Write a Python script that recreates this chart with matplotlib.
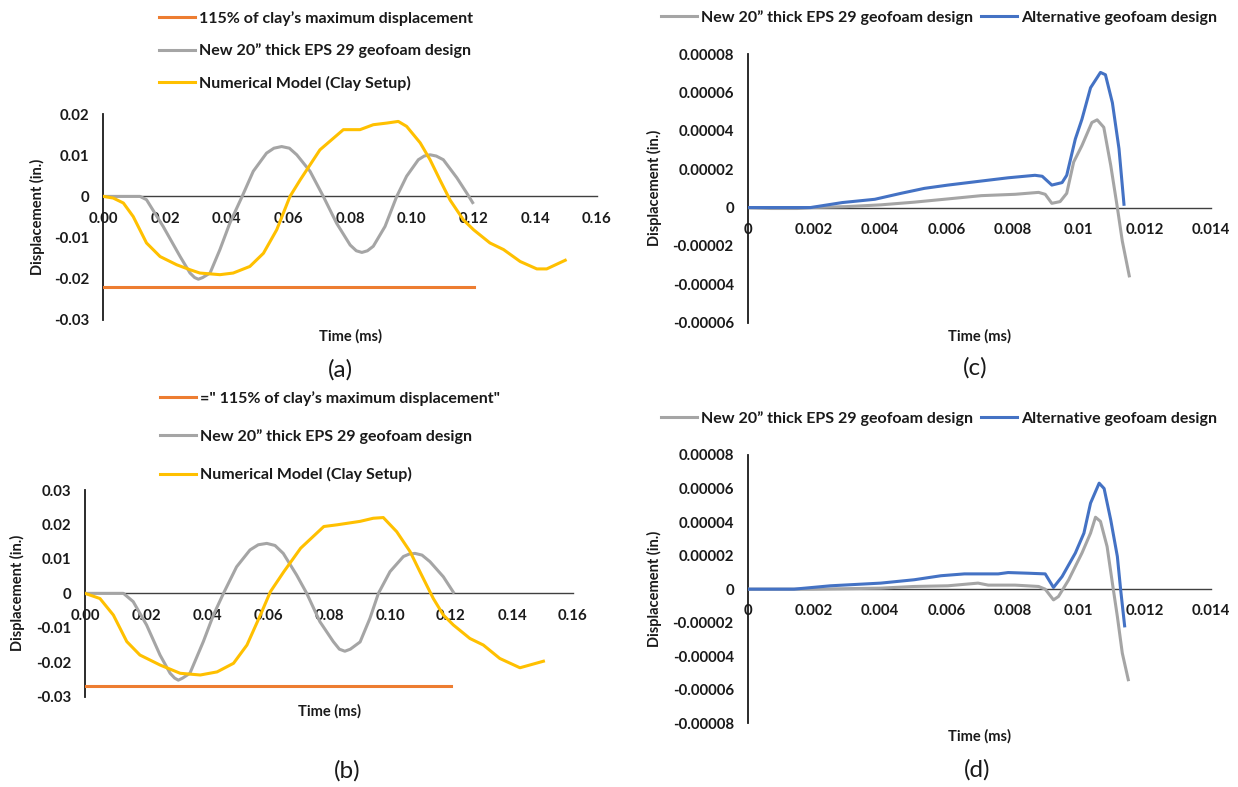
import matplotlib
matplotlib.use("Agg")
import matplotlib.pyplot as plt

plt.rcParams['font.family'] = ['Lato', 'DejaVu Sans']

# ---- (a) ----
a_gray_t = [0, 0.006, 0.0119, 0.014, 0.0194, 0.0249, 0.0281, 0.0296, 0.0308, 0.0322, 0.0346,
            0.0378, 0.041, 0.045, 0.0486, 0.0529, 0.0553, 0.0578, 0.0603, 0.0627, 0.067, 0.0713,
            0.0756, 0.08, 0.082, 0.0838, 0.0856, 0.0875, 0.0913, 0.0951, 0.0983, 0.1021, 0.104,
            0.1059, 0.1079, 0.1102, 0.1146, 0.1178, 0.1197]
a_gray_v = [0, 0, 0, -0.0008, -0.0073, -0.0146, -0.0186, -0.0197, -0.0201, -0.0197, -0.0186,
            -0.0129, -0.0065, 0, 0.0061, 0.0105, 0.0117, 0.0121, 0.0117, 0.0101, 0.0061, 0,
            -0.0065, -0.0118, -0.0132, -0.0136, -0.0132, -0.0121, -0.0073, 0, 0.0049, 0.0089,
            0.0098, 0.0101, 0.0098, 0.0089, 0.0045, 0.0008, -0.0015]
a_yellow_t = [0, 0.0032, 0.0065, 0.0097, 0.014, 0.0184, 0.0238, 0.0281, 0.0313, 0.0378, 0.0421,
              0.0475, 0.0519, 0.0562, 0.0605, 0.0638, 0.0702, 0.0778, 0.0832, 0.0875, 0.0919,
              0.0956, 0.0983, 0.1027, 0.1059, 0.1091, 0.1124, 0.1167, 0.12, 0.1253, 0.1297,
              0.1351, 0.1405, 0.1437, 0.1497]
a_yellow_v = [0, -0.0004, -0.0016, -0.0049, -0.0113, -0.0146, -0.0166, -0.0178, -0.0186, -0.019,
              -0.0186, -0.017, -0.0138, -0.0081, 0, 0.004, 0.0113, 0.0162, 0.0162, 0.0174, 0.0178,
              0.0182, 0.017, 0.013, 0.0089, 0.004, -0.0009, -0.0057, -0.0081, -0.0113, -0.0129,
              -0.0158, -0.0176, -0.0176, -0.0155]
a_limit_t = [0, 0.12]
a_limit_v = [-0.0221, -0.0221]

# ---- (b) ----
b_gray_t = [0, 0.0126, 0.0158, 0.0202, 0.0246, 0.0279, 0.0294, 0.0306, 0.032, 0.0344, 0.0388,
            0.0421, 0.0454, 0.0497, 0.0541, 0.0568, 0.0596, 0.0623, 0.065, 0.0694, 0.0727, 0.077,
            0.0814, 0.0834, 0.0852, 0.087, 0.0902, 0.0934, 0.0962, 0.1, 0.1044, 0.1063, 0.1082,
            0.1105, 0.1131, 0.1175, 0.1208]
b_gray_v = [0, 0, -0.0024, -0.0092, -0.0179, -0.0232, -0.0246, -0.0252, -0.0246, -0.0232,
            -0.014, -0.0063, 0, 0.0077, 0.0126, 0.0141, 0.0145, 0.0139, 0.0116, 0.0053, 0,
            -0.0082, -0.014, -0.0162, -0.0168, -0.0162, -0.0141, -0.0073, 0, 0.0063, 0.0107,
            0.0114, 0.0116, 0.0111, 0.0092, 0.0048, 0.0003]
b_yellow_t = [0, 0.0049, 0.0093, 0.0137, 0.018, 0.0246, 0.0312, 0.0378, 0.0433, 0.0487, 0.0531,
              0.0575, 0.0608, 0.0652, 0.0707, 0.0783, 0.0827, 0.0902, 0.0945, 0.0978, 0.1022,
              0.1066, 0.1098, 0.1142, 0.1175, 0.1208, 0.1262, 0.1306, 0.136, 0.1426, 0.1503]
b_yellow_v = [0, -0.0015, -0.0063, -0.014, -0.0179, -0.0208, -0.0232, -0.0237, -0.0228, -0.0203,
              -0.015, -0.0063, 0.0005, 0.0063, 0.0131, 0.0194, 0.0199, 0.0209, 0.0218, 0.022,
              0.0179, 0.0121, 0.0063, -0.0015, -0.0063, -0.0092, -0.0131, -0.015, -0.0189,
              -0.0216, -0.0197]
b_limit_t = [0, 0.12]
b_limit_v = [-0.0269, -0.0269]

# ---- (c) ----  values in 1e-5 in.
c_gray_t = [0, 0.0007, 0.0015, 0.0019, 0.003, 0.00402, 0.00503, 0.00605, 0.00706, 0.00808,
            0.00879, 0.00899, 0.00919, 0.00944, 0.00964, 0.00985, 0.0101, 0.0104, 0.01056,
            0.01076, 0.01097, 0.01117, 0.01132, 0.01153]
c_gray_v = [0, -0.05, -0.05, 0, 0.05, 0.14, 0.28, 0.45, 0.62, 0.69, 0.79, 0.69, 0.22, 0.31, 0.74,
            2.37, 3.23, 4.43, 4.57, 4.18, 2.2, 0, -1.75, -3.56]
c_blue_t = [0, 0.0019, 0.00286, 0.00384, 0.00463, 0.00534, 0.00605, 0.00686, 0.00787, 0.00868,
            0.0089, 0.00919, 0.0095, 0.00964, 0.0099, 0.0101, 0.01036, 0.01066, 0.01081, 0.01102,
            0.01122, 0.01137]
c_blue_v = [0, 0, 0.26, 0.43, 0.74, 1.0, 1.17, 1.34, 1.55, 1.68, 1.63, 1.17, 1.3, 1.68, 3.57, 4.6,
            6.24, 7.04, 6.92, 5.46, 3.06, 0.17]

# ---- (d) ----
d_gray_t = [0, 0.002, 0.00402, 0.00503, 0.00605, 0.00696, 0.00727, 0.00808, 0.00879, 0.00899,
            0.00924, 0.00939, 0.0097, 0.0101, 0.01036, 0.01051, 0.01066, 0.01086, 0.01102,
            0.01117, 0.01132, 0.0115]
d_gray_v = [0, 0, 0.06, 0.16, 0.2, 0.36, 0.24, 0.24, 0.16, 0, -0.64, -0.44, 0.56, 2.15, 3.34,
            4.29, 4.04, 2.54, 0.36, -1.63, -3.82, -5.4]
d_blue_t = [0, 0.0014, 0.0025, 0.00402, 0.00503, 0.00584, 0.00655, 0.00757, 0.00787, 0.00848,
            0.00899, 0.00924, 0.0095, 0.0099, 0.01016, 0.01036, 0.01062, 0.01077, 0.01097,
            0.01117, 0.01127, 0.01139]
d_blue_v = [0, 0, 0.2, 0.36, 0.56, 0.8, 0.91, 0.91, 0.99, 0.95, 0.91, 0.1, 0.75, 2.15, 3.34, 5.13,
            6.32, 6.0, 4.13, 1.95, -0.04, -2.19]

ab_xticks = [0, 0.02, 0.04, 0.06, 0.08, 0.10, 0.12, 0.14, 0.16]
ab_xlabels = ["0.00", "0.02", "0.04", "0.06", "0.08", "0.10", "0.12", "0.14", "0.16"]
a_yticks = [-0.03, -0.02, -0.01, 0, 0.01, 0.02]
a_ylabels = ["-0.03", "-0.02", "-0.01", "0", "0.01", "0.02"]
b_yticks = [-0.03, -0.02, -0.01, 0, 0.01, 0.02, 0.03]
b_ylabels = ["-0.03", "-0.02", "-0.01", "0", "0.01", "0.02", "0.03"]
cd_xticks = [0, 0.002, 0.004, 0.006, 0.008, 0.010, 0.012, 0.014]
cd_xlabels = ["0", "0.002", "0.004", "0.006", "0.008", "0.01", "0.012", "0.014"]
c_yticks = [-6, -4, -2, 0, 2, 4, 6, 8]
c_ylabels = ["-0.00006", "-0.00004", "-0.00002", "0", "0.00002", "0.00004", "0.00006", "0.00008"]
d_yticks = [-8, -6, -4, -2, 0, 2, 4, 6, 8]
d_ylabels = ["-0.00008", "-0.00006", "-0.00004", "-0.00002", "0", "0.00002", "0.00004",
             "0.00006", "0.00008"]

ORANGE = "#ED7D31"
GRAY = "#A5A5A5"
YELLOW = "#FFC000"
BLUE = "#4472C4"
TXT = "#1a1a1a"
LW = 2.2

lab_limit_a = "115% of clay’s maximum displacement"
lab_limit_b = "=\" 115% of clay’s maximum displacement\""
lab_new = "New 20” thick EPS 29 geofoam design"
lab_num = "Numerical Model (Clay Setup)"
lab_alt = "Alternative geofoam design"

W, H = 1238, 787
fig = plt.figure(figsize=(W / 100, H / 100), dpi=100)


def px_axes(left, top, right, bottom):
    return fig.add_axes([left / W, 1 - bottom / H, (right - left) / W, (bottom - top) / H])


def excel_axes(ax, xticks, xlabels, yticks, ylabels, ylabel_x, xlabel_y):
    ax.set_xlim(xticks[0], xticks[-1])
    ax.set_ylim(yticks[0], yticks[-1])
    ax.set_xticks(xticks, xlabels)
    ax.set_yticks(yticks, ylabels)
    ax.spines['top'].set_visible(False)
    ax.spines['right'].set_visible(False)
    ax.spines['bottom'].set_position(('data', 0))
    ax.spines['bottom'].set_color('#404040')
    ax.spines['bottom'].set_linewidth(1.0)
    ax.spines['left'].set_color(TXT)
    ax.spines['left'].set_linewidth(1.3)
    ax.tick_params(length=0, labelsize=10.8, labelcolor=TXT)
    ax.tick_params(axis='x', pad=11)
    ax.tick_params(axis='y', pad=10)
    for lab in ax.get_xticklabels() + ax.get_yticklabels():
        lab.set_fontweight('bold')
    ax.set_xlabel("Time (ms)", fontsize=10.5, fontweight='bold', color=TXT)
    ax.set_ylabel("Displacement (in.)", fontsize=10.5, fontweight='bold', color=TXT)
    ax.xaxis.set_label_coords(0.5, xlabel_y)
    ax.yaxis.set_label_coords(ylabel_x, 0.5)
    ax.xaxis.label.set_va('center')
    ax.yaxis.label.set_va('center')
    ax.patch.set_alpha(0)


def legend(ax, x, y, ncol, spacing):
    ax.legend(loc='upper left', bbox_to_anchor=(x / W, 1 - y / H), bbox_transform=fig.transFigure,
              ncol=ncol, frameon=False, borderpad=0, borderaxespad=0, handlelength=2.25,
              handletextpad=0.25, columnspacing=0.5, labelspacing=spacing,
              prop={'weight': 'bold', 'size': 11.5})
    for t in ax.get_legend().get_texts():
        t.set_color(TXT)


# (a)
ax = px_axes(103.3, 114, 597, 320)
ax.plot(a_limit_t, a_limit_v, color=ORANGE, lw=LW, label=lab_limit_a, zorder=3)
ax.plot(a_gray_t, a_gray_v, color=GRAY, lw=LW, label=lab_new, zorder=3)
ax.plot(a_yellow_t, a_yellow_v, color=YELLOW, lw=LW, label=lab_num, zorder=3)
excel_axes(ax, ab_xticks, ab_xlabels, a_yticks, a_ylabels, -0.133, -0.078)
legend(ax, 159, 11, 1, 1.1)

# (b)
ax = px_axes(85, 490, 573, 696.7)
ax.plot(b_limit_t, b_limit_v, color=ORANGE, lw=LW, label=lab_limit_b, zorder=3)
ax.plot(b_gray_t, b_gray_v, color=GRAY, lw=LW, label=lab_new, zorder=3)
ax.plot(b_yellow_t, b_yellow_v, color=YELLOW, lw=LW, label=lab_num, zorder=3)
excel_axes(ax, ab_xticks, ab_xlabels, b_yticks, b_ylabels, -0.1375, -0.073)
legend(ax, 160, 391, 1, 1.45)

# (c)
ax = px_axes(747.7, 54, 1211, 322.7)
ax.plot(c_gray_t, c_gray_v, color=GRAY, lw=LW, label=lab_new, zorder=3)
ax.plot(c_blue_t, c_blue_v, color=BLUE, lw=LW, label=lab_alt, zorder=3)
excel_axes(ax, cd_xticks, cd_xlabels, c_yticks, c_ylabels, -0.201, -0.05)
legend(ax, 661, 10, 2, 0.5)

# (d)
ax = px_axes(747.7, 455, 1211, 723.3)
ax.plot(d_gray_t, d_gray_v, color=GRAY, lw=LW, label=lab_new, zorder=3)
ax.plot(d_blue_t, d_blue_v, color=BLUE, lw=LW, label=lab_alt, zorder=3)
excel_axes(ax, cd_xticks, cd_xlabels, d_yticks, d_ylabels, -0.201, -0.05)
legend(ax, 661, 411, 2, 0.5)

for txt, x, y in [("(a)", 340, 370), ("(b)", 347, 771), ("(c)", 975, 368), ("(d)", 977, 770)]:
    fig.text(x / W, 1 - y / H, txt, fontsize=17.5, ha='center', va='center', color=TXT)

fig.savefig("out.png", dpi=100, facecolor='white')
